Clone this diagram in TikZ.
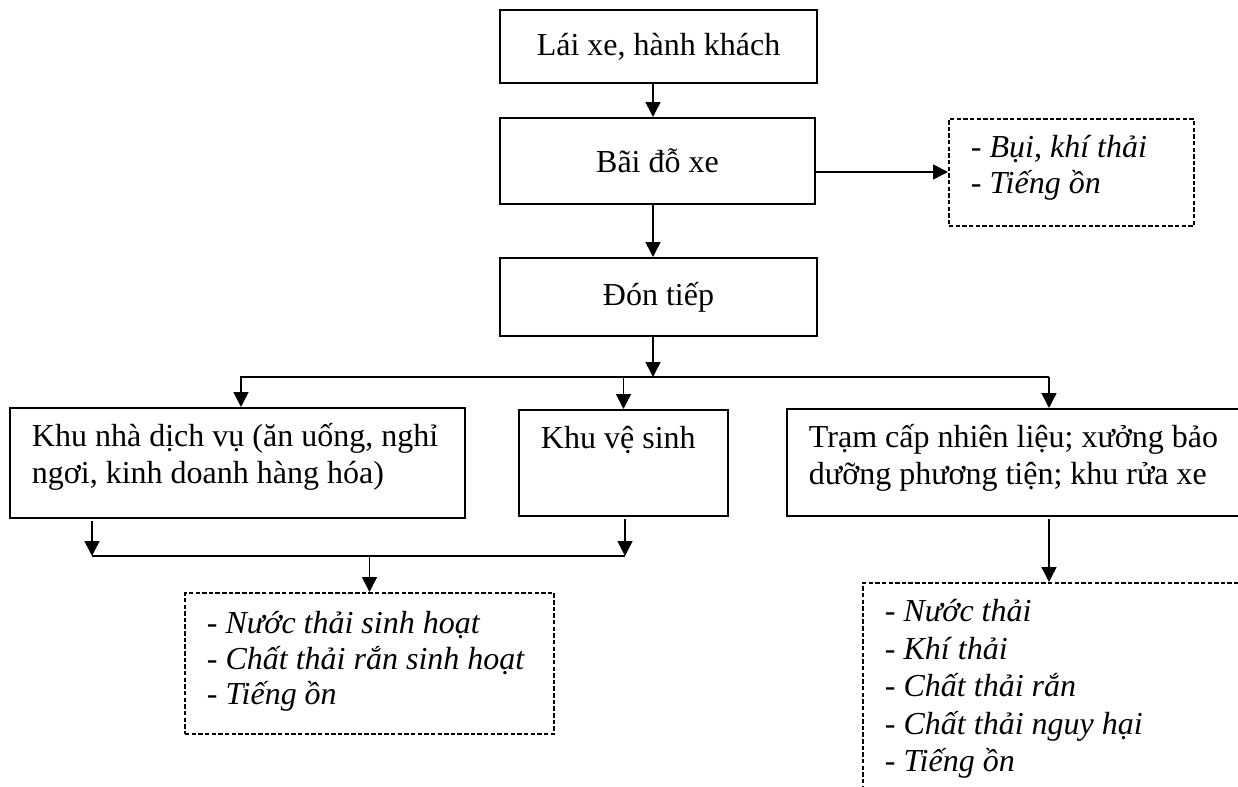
\documentclass[tikz,border=0pt]{standalone}
\usepackage{fontspec}
\setmainfont{Liberation Serif}
\usetikzlibrary{arrows.meta}

\newlength\pxu
\setlength\pxu{0.40625pt}
% text set from the top of a box: [line skip] width, height, lines
\newcommand{\toptext}[4][15pt]{\parbox[c][#3\pxu][t]{#2\pxu}{\raggedright\baselineskip=#1\leftskip=22\pxu\rule{0pt}{15.8pt}#4}}

\begin{document}
\begin{tikzpicture}[x=\pxu, y=-\pxu, font=\fontsize{13}{15}\selectfont,
  stage/.style={draw, line width=0.8pt, inner sep=0pt},
  area/.style={draw, line width=0.8pt, inner sep=0pt, anchor=north west},
  waste/.style={draw, dash pattern=on 1.8pt off 0.9pt, line width=0.8pt, inner sep=0pt, anchor=north west},
  arr/.style={line width=0.6pt, -{Triangle[length=6pt, width=6pt]}}]
  \path[use as bounding box] (0,0) rectangle (1238,787);
  \clip (0,0) rectangle (1238,787);

  \node[stage, minimum width=317\pxu, minimum height=73\pxu] (drv) at (658.5,46.5) {Lái xe, hành khách};
  \node[stage, minimum width=315\pxu, minimum height=86\pxu] (park) at (657.5,161) {Bãi đỗ xe};
  \node[stage, minimum width=317\pxu, minimum height=78\pxu] (recv) at (658.5,297) {Đón tiếp};
  \node[waste] (air) at (948,118) {\toptext[14.3pt]{245}{107}{- \textit{Bụi, khí thải}\\- \textit{Tiếng ồn}}};

  \node[area] (svc) at (9,407) {\toptext{455}{110}{Khu nhà dịch vụ (ăn uống, nghỉ\\ngơi, kinh doanh hàng hóa)}};
  \node[area] (wc) at (518,409) {\toptext{209}{106}{Khu vệ sinh}};
  \node[area] (fuel) at (786,408) {\toptext{480}{107}{Trạm cấp nhiên liệu; xưởng bảo\\dưỡng phương tiện; khu rửa xe}};

  \node[waste] (wasteA) at (184,592) {\toptext[14.3pt]{369}{141}{\rule{0pt}{16.6pt}- \textit{Nước thải sinh hoạt}\\- \textit{Chất thải rắn sinh hoạt}\\- \textit{Tiếng ồn}}};
  \node[waste] (wasteB) at (862,582) {\toptext[15.2pt]{420}{260}{- \textit{Nước thải}\\- \textit{Khí thải}\\- \textit{Chất thải rắn}\\- \textit{Chất thải nguy hại}\\- \textit{Tiếng ồn}}};

  % main line
  \coordinate (spine) at (653,0);
  \coordinate (fume) at (0,172);
  \draw[arr] (drv.south -| spine) -- (park.north -| spine);
  \draw[arr] (park.east |- fume) -- (air.west |- fume);
  \draw[arr] (park.south -| spine) -- (recv.north -| spine);

  % split to the three areas
  \coordinate (busL) at (241,377);
  \coordinate (busR) at (1049,377);
  \draw[arr] (recv.south -| spine) -- (busL -| spine);
  \draw[arr] (busR) -- (busL) -- (svc.north -| busL);
  \draw[arr] (wc.north |- busL) -- (wc.north);
  \draw[arr] (busR) -- (fuel.north -| busR);

  % wastes
  \coordinate (joinL) at (92,556);
  \coordinate (joinR) at (625,556);
  \draw[arr, shorten <=1pt] (svc.south -| joinL) -- (joinL);
  \draw[arr, shorten <=1pt] (wc.south -| joinR) -- (joinR);
  \draw[line width=0.6pt] (joinL) -- (joinR);
  \draw[arr] (wasteA.north |- joinL) -- (wasteA.north);
  \draw[arr, shorten <=1pt] (fuel.south -| busR) -- (wasteB.north -| busR);
\end{tikzpicture}
\end{document}
